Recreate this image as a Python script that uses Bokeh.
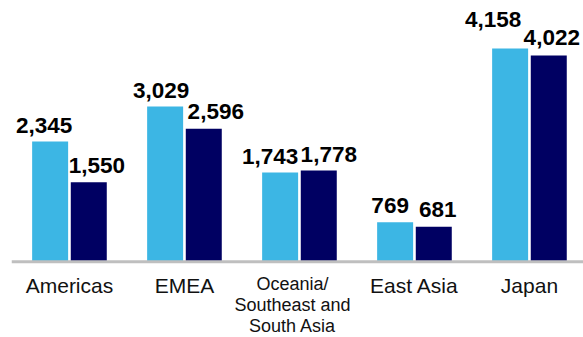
import numpy as np
from bokeh.plotting import figure
from bokeh.models import ColumnDataSource, Range1d, Span
from bokeh.transform import dodge
from bokeh.core.properties import value
from bokeh.embed import file_html
from bokeh.resources import INLINE

categories = ["Americas", "EMEA", "Oceania/\nSoutheast and\nSouth Asia", "East Asia", "Japan"]
series_a = [2345, 3029, 1743, 769, 4158]
series_b = [1550, 2596, 1778, 681, 4022]

# styling: nudges (px) of the value labels, as placed in the original
nudge_ax = [-6, -4, -10, -5, -17]
nudge_ay = [-16, -16, -16, -17, -29]
nudge_bx = [8, 12, 10, 4, 3]
nudge_by = [-17, -17, -16, -17, -18]

LIGHT = "#3CB6E4"
DARK = "#000062"
FONT = "Liberation Sans"

idx = list(range(len(categories)))
multi = ["\n" in c for c in categories]
src = ColumnDataSource(dict(
    idx=idx,
    a=series_a,
    b=series_b,
    a_lbl=[f"{v:,}" for v in series_a],
    b_lbl=[f"{v:,}" for v in series_b],
    a_dx=nudge_ax, a_dy=nudge_ay,
    b_dx=nudge_bx, b_dy=nudge_by,
    cat=categories,
    cat_size=["18px" if m else "21px" for m in multi],
    cat_dx=[-7 if m else 0 for m in multi],
    zero=[0] * len(categories),
))

p = figure(width=583, height=337, output_backend="svg", toolbar_location=None,
           x_range=Range1d(-0.504, 4.47), y_range=Range1d(-1476, 5094),
           min_border_left=11, min_border_right=0, min_border_top=0, min_border_bottom=0)
p.axis.visible = False
p.grid.visible = False
p.outline_line_color = None
p.background_fill_color = "white"
p.border_fill_color = "white"

off = 0.168
w = 0.313
p.vbar(x=dodge("idx", -off), top="a", bottom=0, width=w, source=src,
       fill_color=LIGHT, line_color=None)
p.vbar(x=dodge("idx", off), top="b", bottom=0, width=w, source=src,
       fill_color=DARK, line_color=None)

p.text(x=dodge("idx", -off), y="a", text="a_lbl", source=src,
       text_font=value(FONT), text_font_style="bold", text_font_size="22.5px",
       text_align="center", text_baseline="alphabetic", x_offset="a_dx", y_offset="a_dy",
       text_color="black")
p.text(x=dodge("idx", off), y="b", text="b_lbl", source=src,
       text_font=value(FONT), text_font_style="bold", text_font_size="22.5px",
       text_align="center", text_baseline="alphabetic", x_offset="b_dx", y_offset="b_dy",
       text_color="black")

p.text(x="idx", y="zero", text="cat", source=src,
       text_font=value(FONT), text_font_size="cat_size",
       text_align="center", text_baseline="top", x_offset="cat_dx", y_offset=12,
       text_line_height=1.05, text_color="#111111")

p.add_layout(Span(location=0, dimension="width", line_color="#BFBFBF", line_width=3))

open("out.html", "w").write(file_html(p, INLINE))
